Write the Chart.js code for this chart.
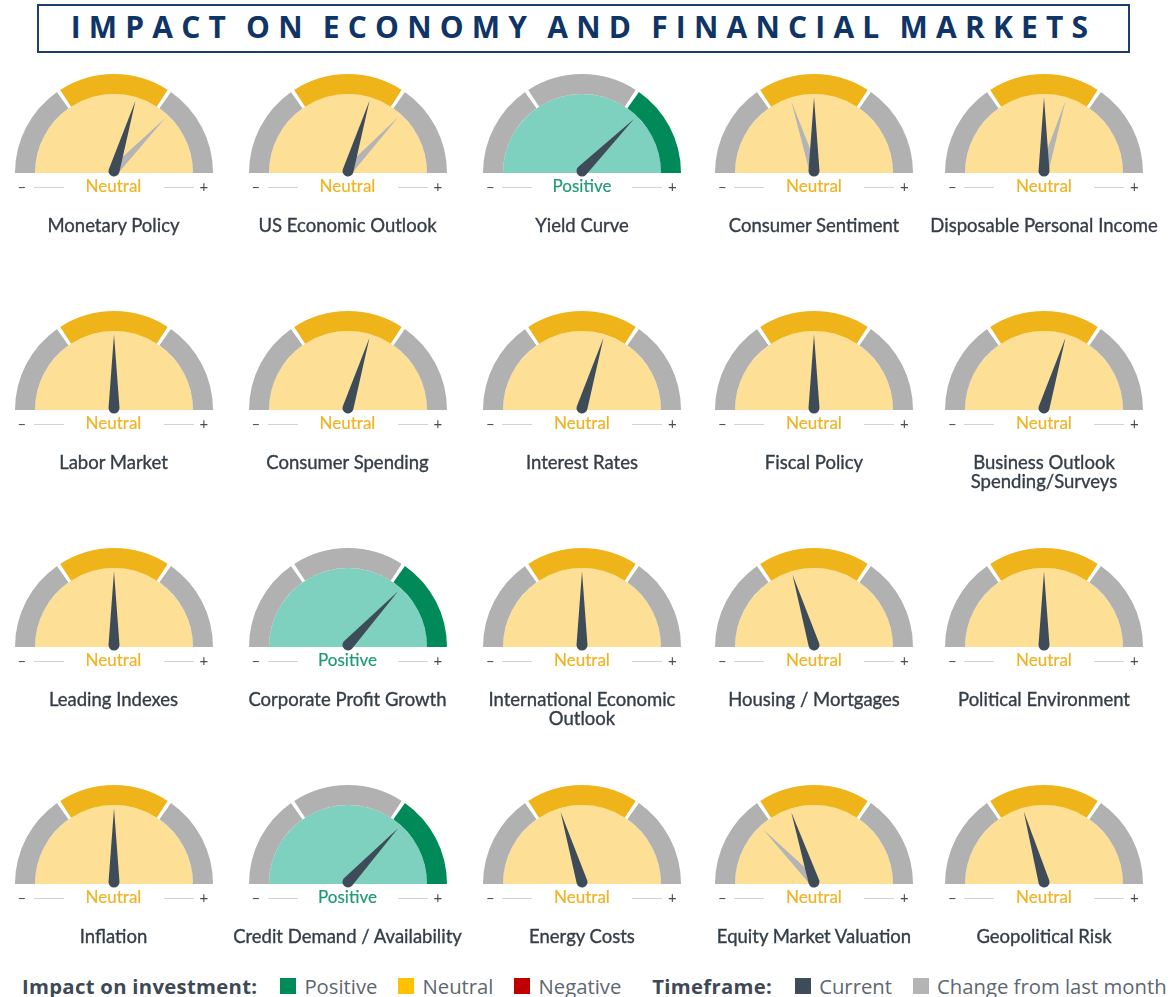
<!DOCTYPE html>
<html>
<head>
<meta charset="utf-8">
<script src="https://cdn.jsdelivr.net/npm/chart.js@4.4.1/dist/chart.umd.min.js"></script>
<style>
  body { margin: 0; background: #fff; }
  #page { position: relative; width: 1176px; height: 997px; overflow: hidden; font-family: Lato, sans-serif; }
  .title {
    position: absolute; left: 37px; top: 4px; width: 1089px; height: 45px;
    border: 2px solid #1b3d70; text-align: center; line-height: 46px; white-space: nowrap;
    font: 700 30px "Open Sans", sans-serif; letter-spacing: 8.2px; word-spacing: -4px; color: #0f3466;
  }
  .gauge { position: absolute; }
  .status { position: absolute; width: 120px; text-align: center; font-size: 17px; line-height: 20px; -webkit-text-stroke: 0.2px; }
  .sign { position: absolute; font-size: 15px; color: #4a4a4a; line-height: 20px; }
  .rule { position: absolute; width: 30px; height: 1px; background: #cdd4de; }
  .label { position: absolute; width: 260px; text-align: center; font-size: 18.5px; line-height: 19px; color: #343e48; white-space: pre; -webkit-text-stroke: 0.35px #343e48; }
  .legend { position: absolute; left: 22px; top: 972px; display: flex; align-items: center; font-family: "Open Sans", sans-serif; font-size: 20.3px; color: #5c6770; white-space: nowrap; }
  .legend b { color: #3d4956; font-weight: 700; margin-right: 23px; letter-spacing: 0.3px; }
  .sw { display: inline-block; width: 16px; height: 16px; margin-right: 8px; }
  .item { margin-right: 21px; display: flex; align-items: center; }
</style>
</head>
<body>
<div id="page">
  <div class="title">IMPACT ON ECONOMY AND FINANCIAL MARKETS</div>
</div>
<script>
const categories = [
  'Monetary Policy', 'US Economic Outlook', 'Yield Curve', 'Consumer Sentiment', 'Disposable Personal Income',
  'Labor Market', 'Consumer Spending', 'Interest Rates', 'Fiscal Policy', 'Business Outlook\nSpending/Surveys',
  'Leading Indexes', 'Corporate Profit Growth', 'International Economic\nOutlook', 'Housing / Mortgages', 'Political Environment',
  'Inflation', 'Credit Demand / Availability', 'Energy Costs', 'Equity Market Valuation', 'Geopolitical Risk'
];
const impact = [
  'Neutral', 'Neutral', 'Positive', 'Neutral', 'Neutral',
  'Neutral', 'Neutral', 'Neutral', 'Neutral', 'Neutral',
  'Neutral', 'Positive', 'Neutral', 'Neutral', 'Neutral',
  'Neutral', 'Positive', 'Neutral', 'Neutral', 'Neutral'
];
// needle reading: 0 = far negative, 90 = straight up, 180 = far positive
const current = [
  107, 107, 135, 90, 90,
  90, 107, 107, 90, 107,
  90, 133, 90, 73, 90,
  90, 133, 73, 72, 74
];
const lastMonth = [
  134, 133, null, 72, 107,
  null, null, null, null, null,
  null, null, null, null, null,
  null, null, null, 46, null
];
const zoneSpans = [56, 68, 56]; // negative / neutral / positive zones of the dial
const impactLegend = ['Positive', 'Neutral', 'Negative'];
const timeframeLegend = ['Current', 'Change from last month'];

const colors = {
  gray: '#b1b1b1', gold: '#efb419', green: '#008a5a', red: '#c00000',
  paleGold: '#fde096', teal: '#7fd1bf', needle: '#3e4c59', oldNeedle: '#b4b4b4'
};
const statusText = { Neutral: '#f0b323', Positive: '#1f9b74' };

const colX = [113.5, 347.5, 582, 814, 1044];
const rowY = [173, 410, 647, 884];
const GAP = 2.2;

const needlePlugin = {
  id: 'needles',
  afterDatasetsDraw(chart, args, opts) {
    const arcs = chart.getDatasetMeta(0).data;
    const disc = chart.getDatasetMeta(1).data[0];
    const first = arcs[0], last = arcs[arcs.length - 1];
    const cx = first.x, cy = first.y - 2;
    const start = first.startAngle, end = last.endAngle;
    const len = disc.outerRadius * 0.93;
    const ctx = chart.ctx;
    const draw = (v, color, w) => {
      const a = start + (v / 180) * (end - start);
      ctx.save();
      ctx.translate(cx, cy);
      ctx.rotate(a);
      ctx.beginPath();
      ctx.moveTo(0, -w);
      ctx.lineTo(len, 0);
      ctx.lineTo(0, w);
      ctx.arc(0, 0, w, Math.PI / 2, Math.PI * 1.5);
      ctx.closePath();
      ctx.fillStyle = color;
      ctx.fill();
      ctx.restore();
    };
    if (opts.previous != null) draw(opts.previous, colors.oldNeedle, 4.5);
    draw(opts.current, colors.needle, 5.5);
  }
};

const page = document.getElementById('page');
function add(cls, css, text) {
  const d = document.createElement('div');
  d.className = cls;
  Object.assign(d.style, css);
  if (text != null) d.textContent = text;
  page.appendChild(d);
  return d;
}

categories.forEach((name, i) => {
  const cx = colX[i % 5], cy = rowY[Math.floor(i / 5)];
  const pos = impact[i] === 'Positive';
  const ringColors = pos
    ? [colors.gray, '#fff', colors.gray, '#fff', colors.green]
    : [colors.gray, '#fff', colors.gold, '#fff', colors.gray];
  const ringData = [zoneSpans[0] - GAP / 2, GAP, zoneSpans[1] - GAP, GAP, zoneSpans[2] - GAP / 2];

  const canvas = document.createElement('canvas');
  canvas.width = 204; canvas.height = 111;
  canvas.className = 'gauge';
  canvas.style.left = (cx - 102) + 'px';
  canvas.style.top = (cy - 102) + 'px';
  page.appendChild(canvas);

  new Chart(canvas, {
    type: 'doughnut',
    data: {
      labels: ['neg', '', 'neutral', '', 'pos'],
      datasets: [
        { data: ringData, backgroundColor: ringColors, borderWidth: 0, weight: 20 },
        { data: [180], backgroundColor: [pos ? colors.teal : colors.paleGold], borderWidth: 0, weight: 79 }
      ]
    },
    options: {
      responsive: false,
      animation: false,
      events: [],
      rotation: -90,
      circumference: 180,
      cutout: 0,
      layout: { padding: { left: 3, right: 3, top: 3, bottom: 9 } },
      plugins: {
        legend: { display: false },
        tooltip: { enabled: false },
        needles: { current: current[i], previous: lastMonth[i] }
      }
    },
    plugins: [needlePlugin]
  });

  add('sign', { left: (cx - 96) + 'px', top: (cy + 3) + 'px' }, '–');
  add('sign', { left: (cx + 86) + 'px', top: (cy + 3) + 'px' }, '+');
  add('rule', { left: (cx - 80) + 'px', top: (cy + 14) + 'px' });
  add('rule', { left: (cx + 50) + 'px', top: (cy + 14) + 'px' });
  add('status', { left: (cx - 60) + 'px', top: (cy + 3) + 'px', color: statusText[impact[i]] }, impact[i]);
  add('label', { left: (cx - 130) + 'px', top: (cy + 43) + 'px' }, name);
});

const legend = add('legend', {});
const swImpact = [colors.green, '#ffc000', colors.red];
const swTime = [colors.needle, colors.oldNeedle];
let html = '<b>Impact on investment:</b>';
impactLegend.forEach((t, k) => { html += `<span class="item"><span class="sw" style="background:${swImpact[k]}"></span>${t}</span>`; });
html += '<b style="margin-left:10px">Timeframe:</b>';
timeframeLegend.forEach((t, k) => { html += `<span class="item"><span class="sw" style="background:${swTime[k]}"></span>${t}</span>`; });
legend.innerHTML = html;
</script>
</body>
</html>
